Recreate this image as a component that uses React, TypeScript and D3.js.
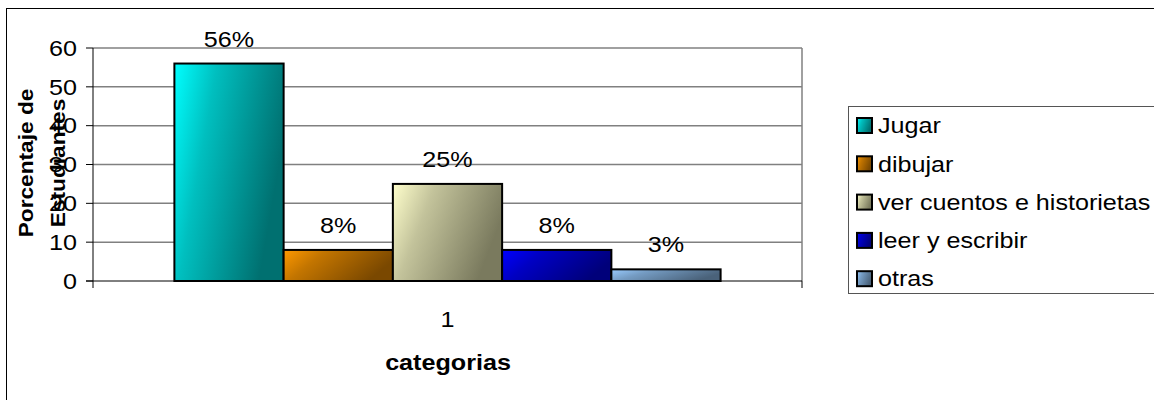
import * as d3 from "d3";
import React from "react";

const categories = ["1"];
const series = ["Jugar", "dibujar", "ver cuentos e historietas", "leer y escribir", "otras"];
const values = [56, 8, 25, 8, 3];
const valueLabels = ["56%", "8%", "25%", "8%", "3%"];
const yTicks = [0, 10, 20, 30, 40, 50, 60];

// light / dark ends of each bar gradient
const lightColors = ["#00FFFF", "#FF9900", "#FFFFCC", "#0000FF", "#99CCFF"];
const darkColors = ["#007070", "#7A4800", "#7A7A5E", "#00007A", "#4A627A"];

const W = 1154;
const H = 400;
const plot = { left: 93, right: 802, top: 48, bottom: 281 };
const font = "Arial, 'Liberation Sans', sans-serif";
const FS = 21.5;
const SX = 1.17; // the source text is a bit wider than plain Arial

type TProps = {
  x: number;
  y: number;
  anchor?: "start" | "middle" | "end";
  bold?: boolean;
  rotate?: number;
  sx?: number;
  size?: number;
  dy?: string;
  children: React.ReactNode;
};

const T = ({ x, y, anchor = "start", bold, rotate = 0, sx = SX, size = FS, dy, children }: TProps) => (
  <text
    transform={`translate(${x},${y}) rotate(${rotate}) scale(${sx},1)`}
    textAnchor={anchor}
    fontSize={size}
    fontWeight={bold ? "bold" : "normal"}
    dy={dy}
  >
    {children}
  </text>
);

const App: React.FC = () => {
  const y = d3.scaleLinear().domain([0, 60]).range([plot.bottom, plot.top]);
  const x0 = d3
    .scaleBand<string>()
    .domain(categories)
    .range([plot.left, plot.right])
    .paddingInner(0)
    .paddingOuter(0.149);
  const x1 = d3.scaleBand<string>().domain(series).range([0, x0.bandwidth()]);

  return (
    <svg width={W} height={H} style={{ position: "absolute", left: 0, top: 0 }} fontFamily={font}>
      <defs>
        {series.map((s, i) => (
          <linearGradient key={s} id={`g${i}`} x1="0" y1="0" x2="1" y2="0.35">
            <stop offset="0%" stopColor={lightColors[i]} />
            <stop offset="35%" stopColor={d3.interpolateRgb(lightColors[i], darkColors[i])(0.45)} />
            <stop offset="100%" stopColor={darkColors[i]} />
          </linearGradient>
        ))}
      </defs>
      <rect x={0} y={0} width={W} height={H} fill="#fff" />
      <rect x={6.5} y={8.5} width={W + 20} height={H + 20} fill="none" stroke="#000" strokeWidth={1} />

      {/* gridlines */}
      {yTicks.filter((t) => t > 0).map((t) => (
        <line key={t} x1={plot.left} x2={plot.right} y1={y(t)} y2={y(t)} stroke="#808080" strokeWidth={1.5} />
      ))}
      <line x1={plot.right} x2={plot.right} y1={plot.top} y2={plot.bottom} stroke="#808080" strokeWidth={1.5} />

      {/* axes */}
      <line x1={plot.left} x2={plot.left} y1={plot.top} y2={plot.bottom + 7} stroke="#000" />
      <line x1={plot.left - 7} x2={plot.right} y1={plot.bottom} y2={plot.bottom} stroke="#000" />
      <line x1={plot.right} x2={plot.right} y1={plot.bottom} y2={plot.bottom + 7} stroke="#000" />
      {yTicks.map((t) => (
        <g key={t}>
          <line x1={plot.left - 7} x2={plot.left} y1={y(t)} y2={y(t)} stroke="#000" />
          <T x={plot.left - 16} y={y(t)} anchor="end" dy="0.36em">
            {t}
          </T>
        </g>
      ))}

      {/* bars */}
      {categories.map((c) => (
        <g key={c} transform={`translate(${x0(c)},0)`}>
          {series.map((s, i) => (
            <g key={s}>
              <rect
                x={x1(s)}
                y={y(values[i])}
                width={x1.bandwidth()}
                height={y(0) - y(values[i])}
                fill={`url(#g${i})`}
                stroke="#000"
                strokeWidth={2}
              />
              <T x={(x1(s) as number) + x1.bandwidth() / 2} y={y(values[i]) - 17} anchor="middle">
                {valueLabels[i]}
              </T>
            </g>
          ))}
          <T x={x0.bandwidth() / 2} y={327} anchor="middle">
            {c}
          </T>
        </g>
      ))}

      {/* axis titles */}
      <T x={448} y={370} anchor="middle" bold>
        categorias
      </T>
      <T x={33} y={163} anchor="middle" bold rotate={-90} sx={1.08} size={21}>
        Porcentaje de
      </T>
      <T x={65} y={163} anchor="middle" bold rotate={-90} sx={1.08} size={21}>
        Estudiantes
      </T>

      {/* legend */}
      <rect x={848.5} y={106.5} width={W} height={187} fill="#fff" stroke="#555" strokeWidth={1} />
      {series.map((s, i) => (
        <g key={s} transform={`translate(857,${125.5 + i * 38.3})`}>
          <rect x={0} y={-7.5} width={15} height={15} fill={`url(#g${i})`} stroke="#000" strokeWidth={2} />
          <T x={21} y={0} dy="0.36em">
            {s}
          </T>
        </g>
      ))}
    </svg>
  );
};

export default App;
